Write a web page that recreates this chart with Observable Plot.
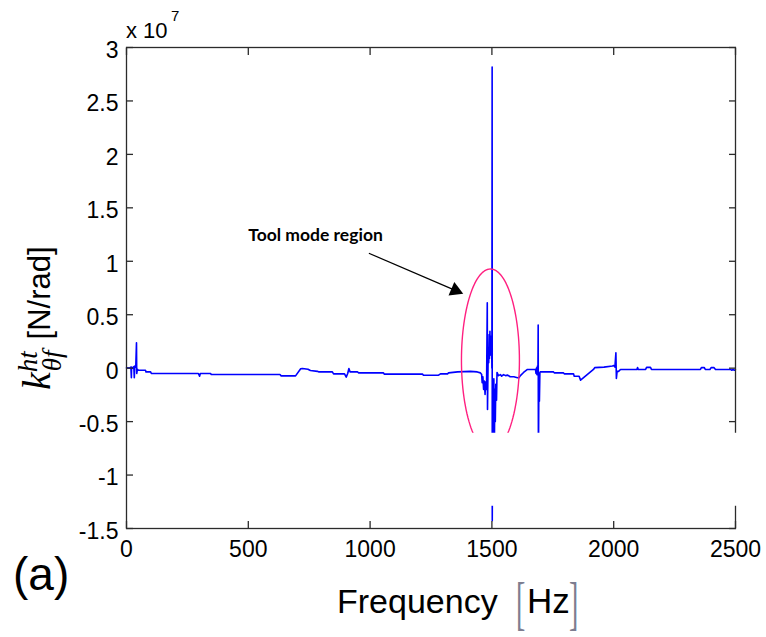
<!DOCTYPE html>
<html><head><meta charset="utf-8">
<script src="https://cdn.jsdelivr.net/npm/d3@7"></script>
<script src="https://cdn.jsdelivr.net/npm/@observablehq/plot@0.6"></script>
<style>
body{margin:0;background:#fff}
#chart{width:766px;height:637px}
</style>
</head><body><div id="chart"></div>
<script>
// Frequency (Hz)
const freq = [0,12,18,20,21,26,30,32,34,38,41,42,45,49,78,80,99,102,295,300,303,345,348,630,635,694,715,722,745,755,784,790,845,850,895,902,908,913,918,948,953,1055,1058,1215,1219,1281,1289,1318,1322,1359,1412,1440,1453,
1458,1460,1463,1466,1469,1472,1474,1478,1481,1482,1484,1485,1487,1489,1490,1492,1493,1495,1497,1499,1500,1501,1501.5,1503,1505,1507,1508,1510,1512,1514,1516,1519,1521,1527,1535,1540,1548,1556,1565,1575,1590,1605,1611,1617,1630,1646,1679,1681,1683,1685,1687,1689,1690,1691,1693,1695,1697,1699,1753,1756,1794,1797,1835,1838,1858,1864,1917,1922,1960,1995,2000,2005,2009,2011,2014,2020,2028,2095,2098,2101,2131,2135,2151,2155,2356,2360,2372,2376,2395,2400,2412,2418,2480,2485,2490,2495,2500];
// k_theta_f^ht (x 10^7 N/rad)
const kht = [0.003,0,0.01,-0.09,0.01,0,0.015,-0.09,0.02,0.01,0.237,-0.05,-0.01,-0.019,-0.019,-0.035,-0.035,-0.05,-0.05,-0.075,-0.05,-0.05,-0.059,-0.059,-0.072,-0.072,-0.006,-0.003,-0.01,-0.022,-0.03,-0.035,-0.035,-0.053,-0.053,-0.084,-0.05,-0.003,-0.035,-0.035,-0.044,-0.044,-0.056,-0.056,-0.066,-0.066,-0.053,-0.053,-0.044,-0.035,-0.03,-0.035,-0.044,
-0.06,-0.137,-0.08,-0.2,-0.12,-0.245,-0.13,-0.2,0.611,-0.387,0,0.19,0.05,0.315,0.09,0.346,0.12,0.3,0.15,0.25,0,2.818,-1.426,-0.2,-0.5,-0.8,-0.1,-0.8,-0.2,-0.5,-0.15,-0.3,-0.04,-0.07,-0.06,-0.075,-0.06,-0.07,-0.065,-0.08,-0.08,-0.09,-0.09,-0.07,-0.04,-0.012,-0.012,-0.05,0,-0.06,0.02,-0.04,0.403,-0.9,-0.06,-0.31,-0.04,-0.035,-0.035,-0.044,-0.044,-0.053,-0.053,-0.075,-0.075,-0.112,-0.012,0.005,0.01,0.02,0.025,0.01,0.143,-0.097,-0.03,-0.03,-0.012,-0.012,0.006,-0.012,-0.012,0.007,0.007,-0.012,-0.012,0.005,0.005,-0.012,-0.012,0.005,0.005,-0.012,-0.012,-0.02,-0.012,-0.02,-0.015];

const xTicks = [0, 500, 1000, 1500, 2000, 2500];
const yTicks = [-1.5, -1, -0.5, 0, 0.5, 1, 1.5, 2, 2.5, 3];

// annotation: ellipse marking the tool mode region (center, radii in data units)
const ellipseCenter = [1494, 0.075];
const ellipseRadii = [119, 0.853];
const annotationText = ["Tool mode region"];
const annotationPos = [776, 1.245];
const arrowFrom = [995, 1.075];
const arrowTo = [1352, 0.725];
const arrowHead = [{x: 1350, y: 0.727, angle: 113}];
// blank band present in the original figure
const blankBand = [{x1: 1300, x2: 2535, y1: -1.292, y2: -0.609}];

const rows = freq.map((f, i) => ({f, v: kht[i]}));
const ellipse = d3.range(0, 361, 3).map(a => ({
  x: ellipseCenter[0] + ellipseRadii[0] * Math.cos(a * Math.PI / 180),
  y: ellipseCenter[1] + ellipseRadii[1] * Math.sin(a * Math.PI / 180)
}));

const axisColor = "#2b2b2b";
const plot = Plot.plot({
  width: 766, height: 637,
  marginLeft: 126, marginRight: 31, marginTop: 47, marginBottom: 109,
  style: {fontFamily: "'Liberation Sans', Arial, sans-serif", fontSize: "23px", color: "#111", background: "#fff"},
  x: {domain: [0, 2500], label: null},
  y: {domain: [-1.5, 3], label: null},
  marks: [
    Plot.line(rows, {x: "f", y: "v", stroke: "#0000ff", strokeWidth: 1.6}),
    Plot.line(ellipse, {x: "x", y: "y", stroke: "#ff2080", strokeWidth: 1.4}),
    Plot.link([{x1: arrowFrom[0], y1: arrowFrom[1], x2: arrowTo[0], y2: arrowTo[1]}],
      {x1: "x1", y1: "y1", x2: "x2", y2: "y2", stroke: "#000", strokeWidth: 1.2}),
    Plot.dot(arrowHead, {x: "x", y: "y", rotate: "angle", symbol: "triangle", r: 5.5, fill: "#000", stroke: "none"}),
    Plot.text(annotationText, {x: annotationPos[0], y: annotationPos[1], text: d => d,
      fontWeight: "bold", fontFamily: "Lato, sans-serif", fontSize: 17.5, fill: "#000"}),
    Plot.frame({stroke: axisColor, strokeWidth: 1.3}),
    Plot.axisX(xTicks, {anchor: "bottom", tickSize: 7, dy: -7, tickFormat: () => "", stroke: axisColor, strokeWidth: 1.3, label: null}),
    Plot.axisX(xTicks, {anchor: "top", tickSize: 7, dy: 7, tickFormat: () => "", stroke: axisColor, strokeWidth: 1.3, label: null}),
    Plot.axisY(yTicks, {anchor: "left", tickSize: 7, dx: 7, tickFormat: () => "", stroke: axisColor, strokeWidth: 1.3, label: null}),
    Plot.axisY(yTicks, {anchor: "right", tickSize: 7, dx: -7, tickFormat: () => "", stroke: axisColor, strokeWidth: 1.3, label: null}),
    Plot.rect(blankBand, {x1: "x1", x2: "x2", y1: "y1", y2: "y2", fill: "#fff"}),
    Plot.axisX(xTicks, {anchor: "bottom", tickSize: 0, tickPadding: 12, tickFormat: d => String(d), fill: "#000", label: null}),
    Plot.axisY(yTicks, {anchor: "left", tickSize: 0, tickPadding: 8, dy: 3, tickFormat: d => String(d), fill: "#000", label: null})
  ]
});
document.getElementById("chart").appendChild(plot);

const svg = d3.select(plot);
const sans = "'Liberation Sans', Arial, sans-serif";
const serif = "'Liberation Serif', 'Times New Roman', serif";
function t(x, y, txt, fam, size, fill) {
  return svg.append("text").attr("x", x).attr("y", y).attr("text-anchor", "start")
    .attr("font-family", fam).attr("font-size", size).attr("fill", fill || "#000").text(txt);
}
function bracket(x, y, txt) {
  return svg.append("text").attr("transform", `translate(${x},${y}) scale(1,2.15)`).attr("text-anchor", "start")
    .attr("font-family", serif).attr("font-size", 28).attr("fill", "#7d7d90").text(txt);
}
// exponent
t(126, 38, "x 10", sans, 22);
t(171, 21, "7", sans, 15);
// x label
t(337, 613, "Frequency", sans, 34);
bracket(516, 623, "[");
t(527, 613, "Hz", sans, 35);
bracket(569, 623, "]");
// panel label
t(13, 590, "(a)", sans, 46);
// y label
const yl = svg.append("text").attr("transform", "translate(50,390) rotate(-90)").attr("text-anchor", "start").attr("fill", "#000");
yl.append("tspan").attr("font-family", serif).attr("font-style", "italic").attr("font-size", 40).text("k");
yl.append("tspan").attr("font-family", serif).attr("font-style", "italic").attr("font-size", 27).attr("dy", -13).text("ht");
yl.append("tspan").attr("font-family", serif).attr("font-style", "italic").attr("font-size", 27).attr("dx", -20).attr("dy", 24).text("θf");
yl.append("tspan").attr("font-family", sans).attr("font-size", 31).attr("dx", 11).attr("dy", -11).text("[N/rad]");
</script>
</body></html>
